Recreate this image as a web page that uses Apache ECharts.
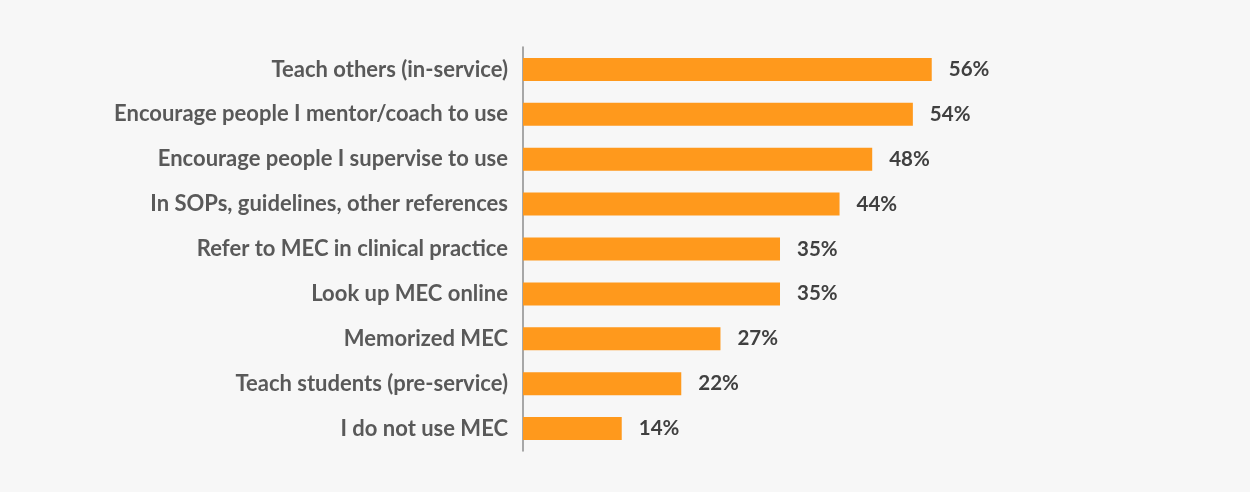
<!DOCTYPE html>
<html>
<head>
<meta charset="utf-8">
<script src="https://cdn.jsdelivr.net/npm/echarts@6/dist/echarts.min.js"></script>
<style>
html,body{margin:0;padding:0;background:#f7f7f7;}
#chart{width:1250px;height:492px;}
</style>
</head>
<body>
<div id="chart"></div>
<script>
const categories = [
  "Teach others (in-service)",
  "Encourage people I mentor/coach to use",
  "Encourage people I supervise to use",
  "In SOPs, guidelines, other references",
  "Refer to MEC in clinical practice",
  "Look up MEC online",
  "Memorized MEC",
  "Teach students (pre-service)",
  "I do not use MEC"
];
const values = [56.3, 53.7, 48.1, 43.6, 35.4, 35.4, 27.2, 21.8, 13.6];

const chart = echarts.init(document.getElementById('chart'), null, {renderer: 'canvas'});
chart.setOption({
  backgroundColor: '#f7f7f7',
  animation: false,
  grid: {left: 523, top: 47, width: 435.6, height: 404, containLabel: false},
  xAxis: {
    type: 'value', min: 0, max: 60,
    show: false
  },
  yAxis: {
    type: 'category',
    inverse: true,
    data: categories,
    axisLine: {show: true, lineStyle: {color: '#8c8c8c', width: 1.5}},
    axisTick: {show: false},
    axisLabel: {
      margin: 15,
      color: '#595959',
      fontFamily: 'Lato',
      fontWeight: 'bold',
      fontSize: 22
    }
  },
  series: [{
    type: 'bar',
    data: values,
    barWidth: 23,
    itemStyle: {color: '#FF991C'},
    label: {
      show: true,
      position: 'right',
      distance: 17,
      color: '#404040',
      fontFamily: 'Lato',
      fontWeight: 'bold',
      fontSize: 20.5,
      formatter: p => Math.round(p.value) + '%'
    }
  }]
});
</script>
</body>
</html>
